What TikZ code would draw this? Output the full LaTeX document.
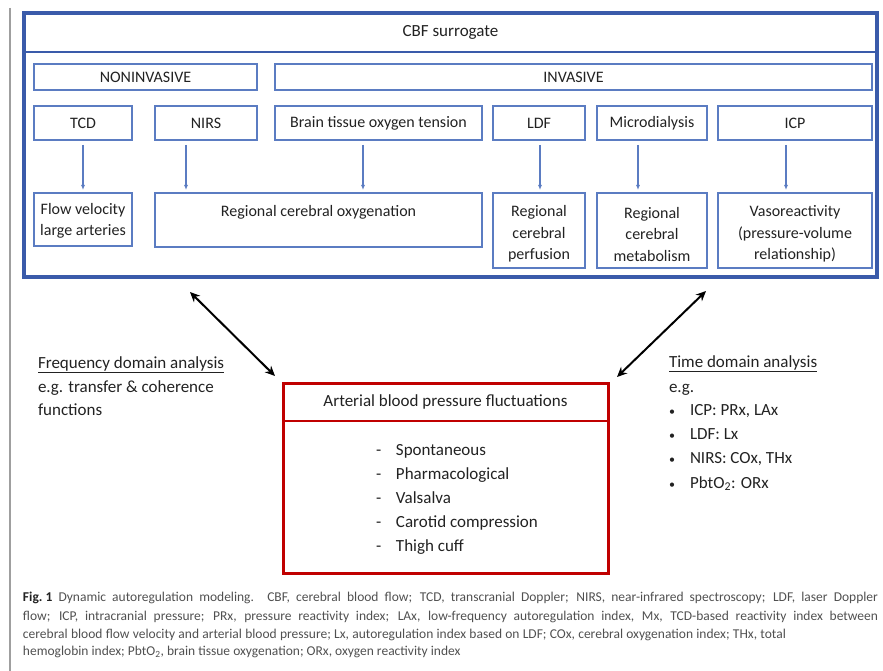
\documentclass[tikz,border=0pt]{standalone}
\usepackage{fontspec}
\setmainfont{Carlito}
\usetikzlibrary{arrows.meta}
\definecolor{bOut}{HTML}{3A5BAA}
\definecolor{bIn}{HTML}{5B7CC2}
\definecolor{rOut}{HTML}{C00000}
\definecolor{txt}{HTML}{222222}
\definecolor{capc}{HTML}{505050}
\begin{document}
\begin{tikzpicture}[x=1pt,y=-1pt,
  every node/.style={inner sep=0pt, outer sep=0pt, text=txt},
  box/.style={draw=bIn, line width=1.4pt, anchor=north west, align=center, font=\fontsize{16}{21.5}\selectfont},
  bigbox/.style={line width=3.2pt, anchor=north west},
  headbox/.style={line width=2.6pt, anchor=north west, font=\fontsize{17}{20}\selectfont},
  barrow/.style={draw=bIn, line width=1.2pt, -{Latex[length=5pt,width=4pt]}, shorten <=5pt, shorten >=3pt},
  darrow/.style={draw=black, line width=2pt, {Stealth[length=10pt,width=9pt]}-{Stealth[length=10pt,width=9pt]}},
  plain/.style={anchor=base west, font=\fontsize{17}{20}\selectfont},
  captxt/.style={anchor=base west, text=capc, font=\fontsize{13.5}{15}\selectfont}
]
\path[use as bounding box] (0,0) rectangle (883,671);
\draw[gray!75, line width=1.8pt] (10,8) -- (10,671);

% CBF surrogate frame
\node[bigbox, draw=bOut, minimum width=853, minimum height=264] (outer) at (24,13) {};
\node[headbox, draw=bOut, minimum width=853, minimum height=39] (hdr) at (24,13) {CBF surrogate};

\node[box, minimum width=223, minimum height=26] (non) at (34,64) {NONINVASIVE};
\node[box, minimum width=597, minimum height=26] (inv) at (275,64) {INVASIVE};

\node[box, minimum width=98, minimum height=34] (tcd) at (34,106) {TCD};
\node[box, minimum width=102, minimum height=34] (nirs) at (155,106) {NIRS};
\node[box, minimum width=207, minimum height=34] (bto) at (275,106) {Brain tissue oxygen tension};
\node[box, minimum width=92, minimum height=34] (ldf) at (493,106) {LDF};
\node[box, minimum width=110, minimum height=34] (mic) at (597,106) {Microdialysis};
\node[box, minimum width=154, minimum height=34] (icp) at (718,106) {ICP};

\node[box, minimum width=98, minimum height=53, text depth=-3pt] (flow) at (34,193) {Flow velocity\\large arteries};
\node[box, minimum width=327, minimum height=54] (oxy) at (155,193) {};
\node[anchor=base, font=\fontsize{16}{21.5}\selectfont] (oxyt) at (318.5,217) {Regional cerebral oxygenation};
\node[box, minimum width=92, minimum height=75] (perf) at (493,193) {\\[-3pt]Regional\\cerebral\\perfusion};
\node[box, minimum width=110, minimum height=75] (meta) at (597,193) {\\[-3pt]Regional\\cerebral\\metabolism};
\node[box, minimum width=154, minimum height=75] (vaso) at (718,193) {\\[-3pt]Vasoreactivity\\(pressure-volume\\relationship)};

\coordinate (x1) at (83,0);
\coordinate (x2) at (186,0);
\coordinate (x3) at (363,0);
\coordinate (x4) at (540,0);
\coordinate (x5) at (638,0);
\coordinate (x6) at (786,0);
\draw[barrow] (tcd.south -| x1) -- (flow.north -| x1);
\draw[barrow] (nirs.south -| x2) -- (oxy.north -| x2);
\draw[barrow] (bto.south -| x3) -- (oxy.north -| x3);
\draw[barrow] (ldf.south -| x4) -- (perf.north -| x4);
\draw[barrow] (mic.south -| x5) -- (meta.north -| x5);
\draw[barrow] (icp.south -| x6) -- (vaso.north -| x6);

% ABP box
\node[bigbox, draw=rOut, line width=3pt, minimum width=325, minimum height=190] (abp) at (283,383) {};
\node[headbox, draw=rOut, minimum width=325, minimum height=38] (abph) at (283,383) {Arterial blood pressure fluctuations};
\foreach \t [count=\i] in {Spontaneous, Pharmacological, Valsalva, Carotid compression, Thigh cuff}
  \node[plain] (m\i) at (376, 431.5+24*\i) {\makebox[20pt][l]{-}\t};

% double arrows
\coordinate (L1) at (190,292);
\coordinate (L2) at (275,376);
\coordinate (R1) at (706,291);
\coordinate (R2) at (617,377);
\draw[darrow] (L1) -- (L2);
\draw[darrow] (R1) -- (R2);

% left text
\node[plain] (fd1) at (38,368) {\underline{Frequency domain analysis}};
\node[plain] (fd2) at (38,392) {e.g. transfer \& coherence};
\node[plain] (fd3) at (38,415.5) {functions};

% right text
\node[plain] (td1) at (669,367.5) {\underline{Time domain analysis}};
\node[plain] (td2) at (669,392) {e.g.};
\node[plain] (td3) at (669,415) {\makebox[21pt][l]{\fontsize{12}{12}\selectfont\textbullet}ICP: PRx, LAx};
\node[plain] (td4) at (669,439) {\makebox[21pt][l]{\fontsize{12}{12}\selectfont\textbullet}LDF: Lx};
\node[plain] (td5) at (669,463) {\makebox[21pt][l]{\fontsize{12}{12}\selectfont\textbullet}NIRS: COx, THx};
\node[plain] (td6) at (669,488) {\makebox[21pt][l]{\fontsize{12}{12}\selectfont\textbullet}PbtO\textsubscript{2}: ORx};

% caption
\node[captxt] (c1) at (23,601) {\makebox[855pt][s]{\mbox{\textbf{\color{txt}Fig.~1}} Dynamic autoregulation modeling. CBF, cerebral blood flow; TCD, transcranial Doppler; NIRS, near-infrared spectroscopy; LDF, laser Doppler}};
\node[captxt] (c2) at (23,620) {\makebox[855pt][s]{flow; ICP, intracranial pressure; PRx, pressure reactivity index; LAx, low-frequency autoregulation index, Mx, TCD-based reactivity index between}};
\node[captxt] (c3) at (23,638) {\makebox[763pt][s]{cerebral blood flow velocity and arterial blood pressure; Lx, autoregulation index based on LDF; COx, cerebral oxygenation index; THx, total}};
\node[captxt] (c4) at (23,655) {hemoglobin index; PbtO\textsubscript{2}, brain tissue oxygenation; ORx, oxygen reactivity index};
\end{tikzpicture}
\end{document}
